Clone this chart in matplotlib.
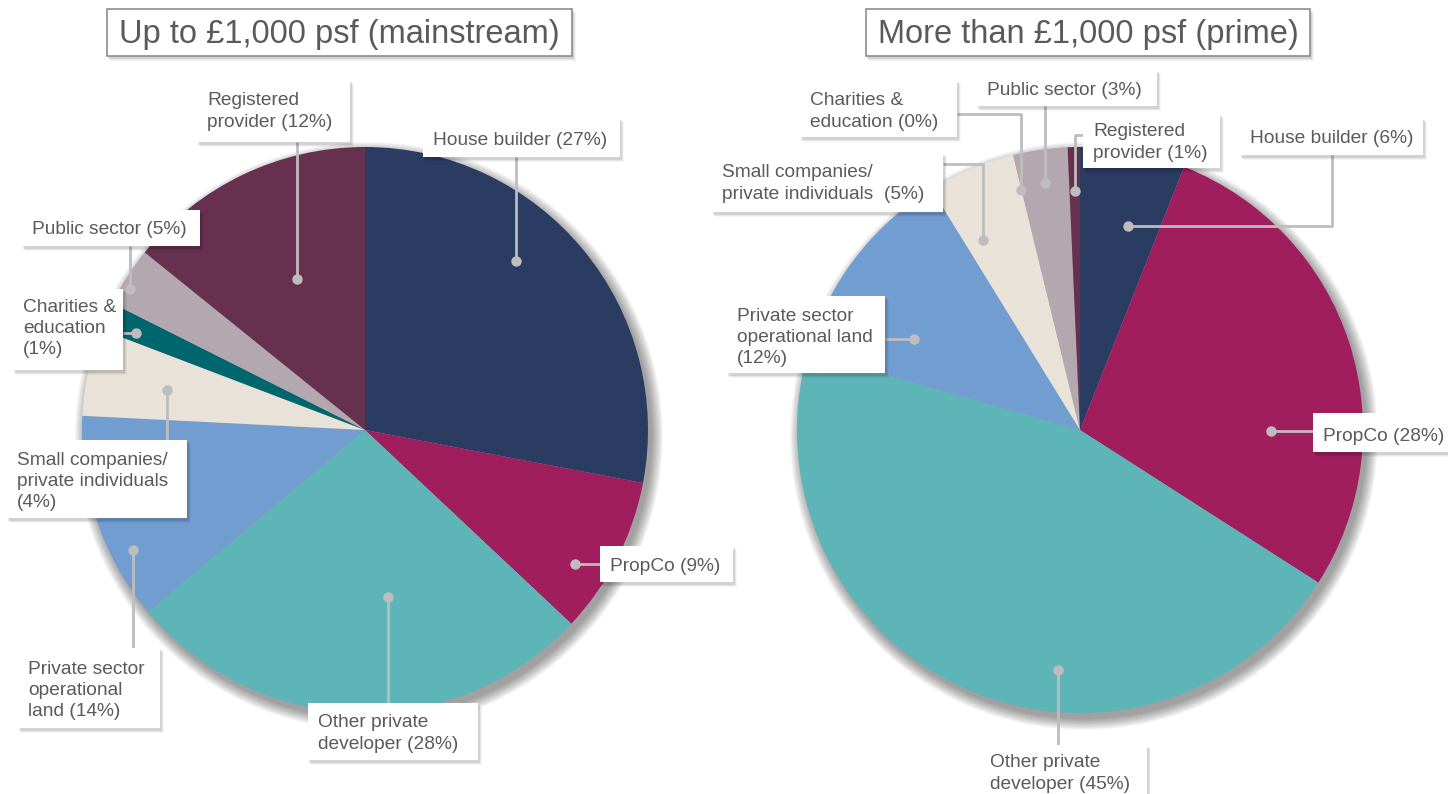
import matplotlib
matplotlib.use("Agg")
import matplotlib.pyplot as plt
from matplotlib.patches import Rectangle, Circle

plt.rcParams['font.family'] = ['Liberation Sans', 'DejaVu Sans']

# ---------------- data ----------------
categories = ["House builder", "PropCo", "Other private developer",
              "Private sector operational land", "Small companies/private individuals",
              "Charities & education", "Public sector", "Registered provider"]
colors = ["#2B3C63", "#A01D5E", "#5DB5B7", "#729DD1", "#E8E2D8",
          "#00666E", "#B4A8B0", "#67304F"]

# slice shares as drawn in the picture (%)
mainstream_values = [28.0, 9.0, 26.9, 11.9, 5.0, 1.6, 3.4, 14.2]
prime_values = [6.0, 28.1, 45.4, 11.8, 5.0, 0.0, 3.1, 0.7]

titles = ["Up to £1,000 psf (mainstream)", "More than £1,000 psf (prime)"]

mainstream_labels = ["House builder (27%)", "PropCo (9%)", "Other private\ndeveloper (28%)",
                     "Private sector\noperational\nland (14%)",
                     "Small companies/\nprivate individuals\n(4%)",
                     "Charities &\neducation\n(1%)", "Public sector (5%)",
                     "Registered\nprovider (12%)"]
prime_labels = ["House builder (6%)", "PropCo (28%)", "Other private\ndeveloper (45%)",
                "Private sector\noperational land\n(12%)",
                "Small companies/\nprivate individuals  (5%)",
                "Charities &\neducation (0%)", "Public sector (3%)",
                "Registered\nprovider (1%)"]

# ---------------- layout (pixels) ----------------
W, H = 1448, 794
pie_centers = [(365, 430), (1080, 430)]
pie_radius = 283
title_boxes = [(107, 9, 572, 56), (866, 9, 1310, 56)]

# label box (x0, y0, x1, y1), text centre y, leader polyline (from box to dot)
mainstream_layout = [
    ((423, 118, 620, 157), 139, [(516, 157), (516, 261)]),
    ((600, 546, 733, 582), 565, [(600, 564), (575, 564)]),
    ((308, 703, 478, 760), 732, [(388, 703), (388, 597)]),
    ((18, 648, 160, 728), 689, [(133, 648), (133, 550)]),
    ((7, 440, 187, 518), 480, [(167, 440), (167, 390)]),
    ((13, 289, 123, 370), 327, [(123, 333), (136, 333)]),
    ((22, 210, 200, 246), 228, [(130, 246), (130, 289)]),
    ((197, 80, 350, 142), 110, [(297, 142), (297, 279)]),
]
prime_layout = [
    ((1240, 118, 1423, 155), 137, [(1332, 155), (1332, 226), (1128, 226)]),
    ((1313, 413, 1448, 452), 435, [(1313, 431), (1271, 431)]),
    ((980, 745, 1147, 800), 772, [(1058, 745), (1058, 670)]),
    ((727, 296, 885, 373), 336, [(885, 339), (914, 339)]),
    ((712, 153, 943, 212), 182, [(943, 164), (983, 164), (983, 240)]),
    ((800, 80, 957, 137), 110, [(957, 114), (1021, 114), (1021, 190)]),
    ((977, 70, 1157, 106), 89, [(1045, 106), (1045, 183)]),
    ((1083, 114, 1220, 168), 141, [(1083, 135), (1075, 135), (1075, 191)]),
]

text_color = "#5A5A5A"
line_color = "#BDBDBD"

fig = plt.figure(figsize=(W / 100, H / 100), dpi=100)
ax = fig.add_axes([0, 0, 1, 1])


def shadow_box(x0, y0, x1, y1, z):
    for i, a in enumerate([0.09, 0.06, 0.035]):
        d = i + 1
        ax.add_patch(Rectangle((x0 + d, y0 + d + 1), x1 - x0 + 1, y1 - y0 + 1,
                               facecolor="black", edgecolor="none", alpha=a, zorder=z))


def draw_pie(center, values, labels, layout, title, tbox):
    cx, cy = center
    # soft shadow under pie
    for k in range(12):
        ax.add_patch(Circle((cx + 4, cy + 6), pie_radius + k * 1.0, facecolor="black",
                            edgecolor="none", alpha=0.035, zorder=1))
    ax.pie(values, colors=colors, startangle=-90, counterclock=True,
           center=center, radius=pie_radius, frame=True,
           wedgeprops=dict(linewidth=0, edgecolor="none", zorder=2))
    # labels
    for lab, ((x0, y0, x1, y1), ty, pts) in zip(labels, layout):
        xs = [p[0] for p in pts]
        ys = [p[1] for p in pts]
        ax.plot(xs, ys, color=line_color, lw=2.0, zorder=5, solid_capstyle="butt")
        ax.plot([xs[-1]], [ys[-1]], "o", color=line_color, ms=7.5, zorder=6,
                markeredgewidth=0)
        shadow_box(x0, y0, x1, y1, 7)
        ax.add_patch(Rectangle((x0, y0), x1 - x0, y1 - y0, facecolor="white",
                               edgecolor="none", zorder=8))
        ax.text(x0 + 10, ty + 1.5, lab, fontsize=13.8, color=text_color, ha="left",
                va="center", linespacing=1.33, zorder=9)
    # title
    x0, y0, x1, y1 = tbox
    shadow_box(x0, y0, x1, y1, 7)
    ax.add_patch(Rectangle((x0, y0), x1 - x0, y1 - y0, facecolor="white",
                           edgecolor="#8C8C8C", lw=1.2, zorder=8))
    ax.text((x0 + x1) / 2, (y0 + y1) / 2 + 2.5, title, fontsize=23.5, color=text_color,
            ha="center", va="center", zorder=9)


draw_pie(pie_centers[0], mainstream_values, mainstream_labels, mainstream_layout,
         titles[0], title_boxes[0])
draw_pie(pie_centers[1], prime_values, prime_labels, prime_layout,
         titles[1], title_boxes[1])

ax.set_xlim(0, W)
ax.set_ylim(H, 0)
ax.set_aspect("auto")
ax.axis("off")

fig.savefig("out.png", dpi=100, facecolor="white")
